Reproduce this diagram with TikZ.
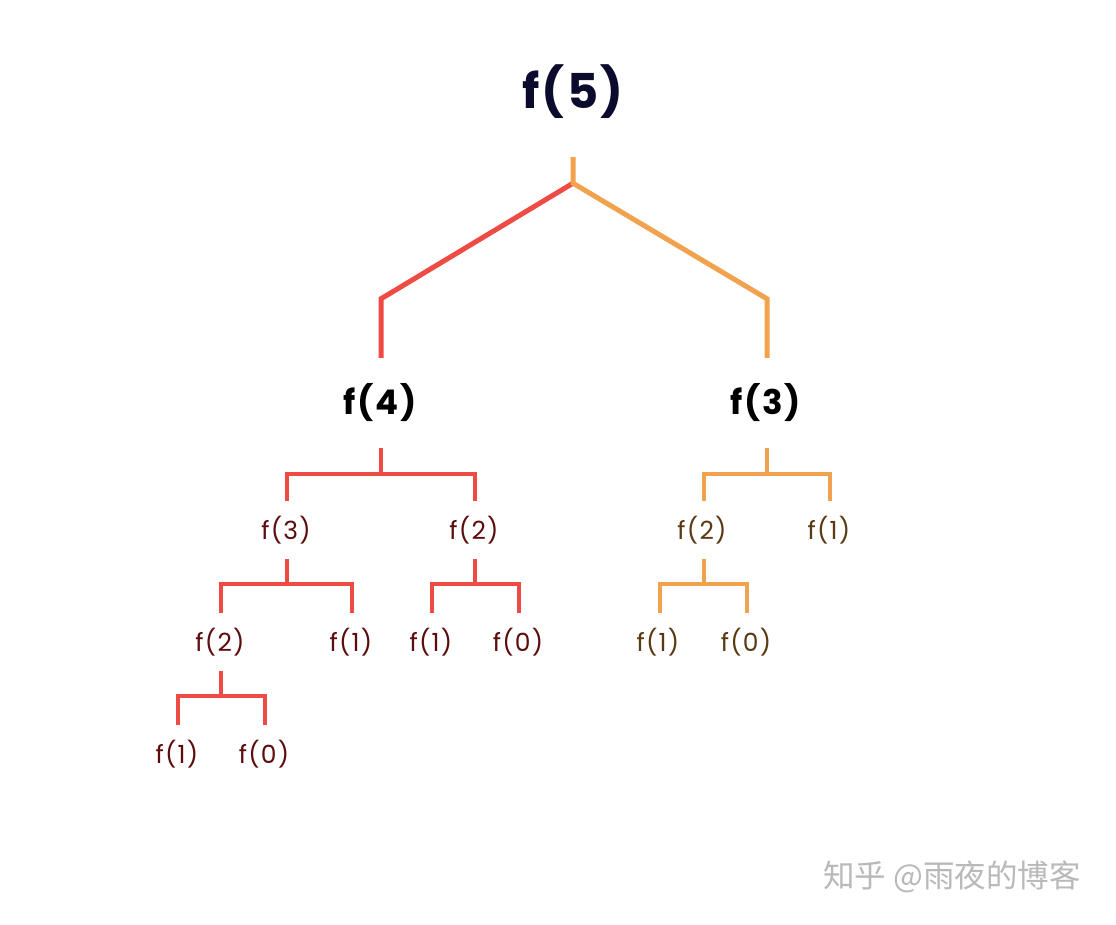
\documentclass[tikz,border=0pt]{standalone}
\usepackage{fontspec}
\setmainfont{Poppins}[LetterSpace=5]
\newfontfamily\cjkfont{Noto Sans CJK SC}
\usetikzlibrary{calc}
\definecolor{lred}{HTML}{EE4B45}
\definecolor{lorange}{HTML}{F0A24E}
\definecolor{navy}{HTML}{0B0B2E}
\definecolor{tred}{HTML}{5C0D0D}
\definecolor{tbrown}{HTML}{5A3A12}
\tikzset{
  x=1pt, y=-1pt,
  toplabel/.style={inner sep=0pt, minimum height=130pt, font=\fontsize{48}{52}\selectfont\bfseries, text=navy},
  midlabel/.style={inner sep=0pt, minimum height=90pt, font=\fontsize{34}{38}\selectfont\bfseries, text=black},
  redleaf/.style={inner sep=0pt, minimum height=58pt, font=\fontsize{25}{29}\selectfont, text=tred},
  orleaf/.style={inner sep=0pt, minimum height=58pt, font=\fontsize{25}{29}\selectfont, text=tbrown},
  thickline/.style={line width=5pt},
  thinline/.style={line width=4pt},
}
\begin{document}
\begin{tikzpicture}
\useasboundingbox[fill=white] (0,0) rectangle (1116,924);
% nodes
\node[toplabel] (f5) at (573,92) {f(5)};
\node[midlabel] (f4) at (380,403) {f(4)};
\node[midlabel] (f3r) at (766,403) {f(3)};
\node[redleaf] (a3) at (286,530) {f(3)};
\node[redleaf] (a2) at (474,530) {f(2)};
\node[redleaf] (b2) at (220,642) {f(2)};
\node[redleaf] (b1) at (351,642) {f(1)};
\node[redleaf] (c1) at (431,642) {f(1)};
\node[redleaf] (c0) at (518,642) {f(0)};
\node[redleaf] (d1) at (177,754) {f(1)};
\node[redleaf] (d0) at (264,754) {f(0)};
\node[orleaf] (r2) at (702,530) {f(2)};
\node[orleaf] (r1) at (829,530) {f(1)};
\node[orleaf] (s1) at (658,642) {f(1)};
\node[orleaf] (s0) at (746,642) {f(0)};
\node[text=gray!55, font=\cjkfont\fontsize{31.5}{35}\selectfont] (wm) at (952,877) {知乎 @雨夜的博客};
% top connectors
\coordinate (t) at ($(f5.south)+(0,26)$);
\draw[thickline, lred] (t) -- ($(f4.north)+(1,-59)$) -- ($(f4.north)+(1,0)$);
\draw[thickline, lorange] (f5.south) -- (t) -- ($(f3r.north)+(1,-59)$) -- ($(f3r.north)+(1,0)$);
% left brackets
\draw[thinline, lred] (f4.south -| 381,0) -- ++(0,26) coordinate (j4);
\draw[thinline, lred] (a3.north -| 287,0) |- (j4) -| (a2.north -| 475,0);
\draw[thinline, lred] (a3.south -| 287,0) -- ++(0,25) coordinate (j3);
\draw[thinline, lred] (b2.north -| 221,0) |- (j3) -| (b1.north -| 352,0);
\draw[thinline, lred] (a2.south -| 475,0) -- ++(0,25) coordinate (j2);
\draw[thinline, lred] (c1.north -| 432,0) |- (j2) -| (c0.north -| 519,0);
\draw[thinline, lred] (b2.south -| 221,0) -- ++(0,25) coordinate (j22);
\draw[thinline, lred] (d1.north -| 178,0) |- (j22) -| (d0.north -| 265,0);
% right brackets
\draw[thinline, lorange] (f3r.south -| 767,0) -- ++(0,26) coordinate (k3);
\draw[thinline, lorange] (r2.north -| 704,0) |- (k3) -| (r1.north -| 830,0);
\draw[thinline, lorange] (r2.south -| 704,0) -- ++(0,25) coordinate (k2);
\draw[thinline, lorange] (s1.north -| 660,0) |- (k2) -| (s0.north -| 747,0);
\end{tikzpicture}
\end{document}
